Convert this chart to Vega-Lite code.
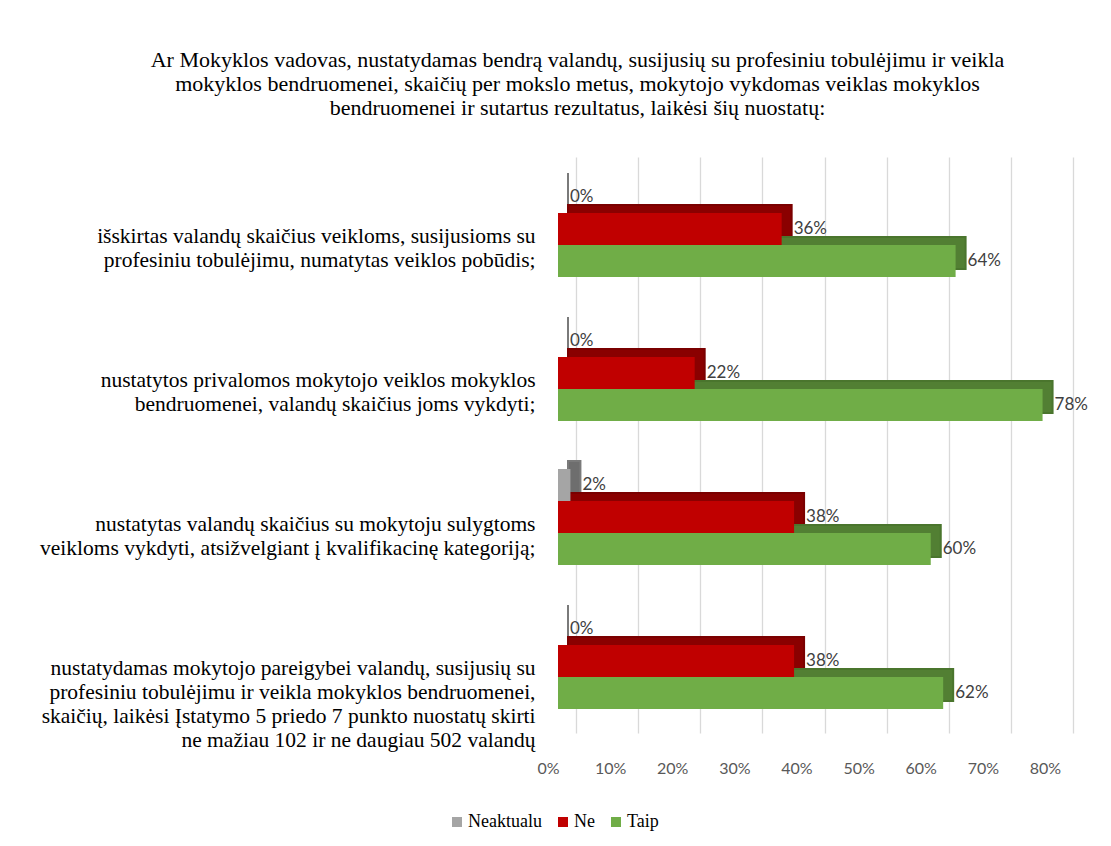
{
  "$schema": "https://vega.github.io/schema/vega-lite/v6.json",
  "autosize": "none",
  "width": 497,
  "height": 576,
  "padding": {"left": 558, "top": 157, "right": 56, "bottom": 113},
  "background": "white",
  "title": {
    "text": ["Ar Mokyklos vadovas, nustatydamas bendrą valandų, susijusių su profesiniu tobulėjimu ir veikla", "mokyklos bendruomenei,  skaičių per mokslo metus, mokytojo vykdomas  veiklas mokyklos", "bendruomenei ir sutartus rezultatus, laikėsi šių nuostatų:"],
    "font": "Liberation Serif",
    "fontSize": 22,
    "fontWeight": "normal",
    "color": "#000000",
    "lineHeight": 24,
    "anchor": "middle",
    "dx": -229,
    "offset": 37
  },
  "data": {
    "values": [
      {"q": "išskirtas valandų skaičius veikloms, susijusioms su|profesiniu tobulėjimu, numatytas veiklos pobūdis;", "series": "Neaktualu", "v": 0},
      {"q": "išskirtas valandų skaičius veikloms, susijusioms su|profesiniu tobulėjimu, numatytas veiklos pobūdis;", "series": "Ne", "v": 0.36},
      {"q": "išskirtas valandų skaičius veikloms, susijusioms su|profesiniu tobulėjimu, numatytas veiklos pobūdis;", "series": "Taip", "v": 0.64},
      {"q": "nustatytos privalomos mokytojo  veiklos mokyklos|bendruomenei, valandų skaičius joms vykdyti;", "series": "Neaktualu", "v": 0},
      {"q": "nustatytos privalomos mokytojo  veiklos mokyklos|bendruomenei, valandų skaičius joms vykdyti;", "series": "Ne", "v": 0.22},
      {"q": "nustatytos privalomos mokytojo  veiklos mokyklos|bendruomenei, valandų skaičius joms vykdyti;", "series": "Taip", "v": 0.78},
      {"q": "nustatytas valandų skaičius su mokytoju sulygtoms|veikloms vykdyti, atsižvelgiant į kvalifikacinę kategoriją;", "series": "Neaktualu", "v": 0.02},
      {"q": "nustatytas valandų skaičius su mokytoju sulygtoms|veikloms vykdyti, atsižvelgiant į kvalifikacinę kategoriją;", "series": "Ne", "v": 0.38},
      {"q": "nustatytas valandų skaičius su mokytoju sulygtoms|veikloms vykdyti, atsižvelgiant į kvalifikacinę kategoriją;", "series": "Taip", "v": 0.60},
      {"q": "nustatydamas mokytojo pareigybei valandų, susijusių su|profesiniu tobulėjimu ir veikla mokyklos bendruomenei,|skaičių, laikėsi Įstatymo 5 priedo 7 punkto nuostatų skirti|ne mažiau 102 ir ne daugiau 502 valandų", "series": "Neaktualu", "v": 0},
      {"q": "nustatydamas mokytojo pareigybei valandų, susijusių su|profesiniu tobulėjimu ir veikla mokyklos bendruomenei,|skaičių, laikėsi Įstatymo 5 priedo 7 punkto nuostatų skirti|ne mažiau 102 ir ne daugiau 502 valandų", "series": "Ne", "v": 0.38},
      {"q": "nustatydamas mokytojo pareigybei valandų, susijusių su|profesiniu tobulėjimu ir veikla mokyklos bendruomenei,|skaičių, laikėsi Įstatymo 5 priedo 7 punkto nuostatų skirti|ne mažiau 102 ir ne daugiau 502 valandų", "series": "Taip", "v": 0.62}
    ]
  },
  "encoding": {
    "y": {
      "field": "q",
      "type": "nominal",
      "sort": null,
      "title": null,
      "scale": {"paddingInner": 0.333, "paddingOuter": 0.1667},
      "axis": {
        "labelExpr": "split(datum.value, '|')",
        "labelFont": "Liberation Serif",
        "labelFontSize": 21.5,
        "labelColor": "#000000",
        "labelLineHeight": 24,
        "labelLimit": 600,
        "labelAlign": "right",
        "labelOffset": 8,
        "labelPadding": 23,
        "ticks": false,
        "domain": false,
        "grid": false
      }
    },
    "x": {
      "field": "v",
      "type": "quantitative",
      "title": null,
      "scale": {"domain": [0, 0.8], "nice": false},
      "axis": {
        "format": ".0%",
        "values": [0, 0.1, 0.2, 0.3, 0.4, 0.5, 0.6, 0.7, 0.8],
        "labelFont": "Lato",
        "labelFontSize": 16,
        "labelColor": "#595959",
        "labelPadding": 27,
        "labelFlush": false,
        "tickOffset": 18,
        "labelOffset": -28,
        "ticks": false,
        "domain": false,
        "grid": true,
        "gridColor": "#D9D9D9",
        "gridWidth": 1.3
      }
    }
  },
  "layer": [
    {
      "mark": {"type": "bar", "xOffset": 10, "strokeWidth": 2},
      "encoding": {
        "yOffset": {"field": "series", "type": "nominal", "sort": ["Neaktualu", "Ne", "Taip"], "scale": {"range": [-8, 88]}},
        "fill": {"field": "series", "type": "nominal", "legend": null, "scale": {"domain": ["Neaktualu", "Ne", "Taip"], "range": ["#6E6E6E", "#8A0000", "#527F33"]}},
        "stroke": {"field": "series", "type": "nominal", "legend": null, "scale": {"domain": ["Neaktualu", "Ne", "Taip"], "range": ["#7A7A7A", "#7A0000", "#4A752D"]}}
      }
    },
    {
      "mark": {"type": "bar"},
      "encoding": {
        "yOffset": {"field": "series", "type": "nominal", "sort": ["Neaktualu", "Ne", "Taip"], "scale": {"range": [0, 96]}},
        "color": {
          "field": "series",
          "type": "nominal",
          "title": null,
          "scale": {"domain": ["Neaktualu", "Ne", "Taip"], "range": ["#A5A5A5", "#C00000", "#70AD47"]},
          "legend": {
            "orient": "none",
            "direction": "horizontal",
            "legendX": -110,
            "legendY": 656,
            "symbolType": "square",
            "symbolSize": 100,
            "symbolStrokeWidth": 0,
            "labelFont": "Liberation Serif",
            "labelFontSize": 18,
            "labelColor": "#000000",
            "columnPadding": 12,
            "labelOffset": 2
          }
        }
      }
    },
    {
      "mark": {"type": "text", "align": "left", "baseline": "middle", "dx": 12, "font": "Lato", "fontSize": 17, "color": "#404040"},
      "encoding": {
        "yOffset": {"field": "series", "type": "nominal", "sort": ["Neaktualu", "Ne", "Taip"], "scale": {"range": [0, 96]}},
        "text": {"field": "v", "type": "quantitative", "format": ".0%"}
      }
    }
  ],
  "resolve": {
    "scale": {"yOffset": "independent"},
    "legend": {"color": "independent", "fill": "independent", "stroke": "independent"}
  },
  "config": {
    "view": {"stroke": null}
  }
}
